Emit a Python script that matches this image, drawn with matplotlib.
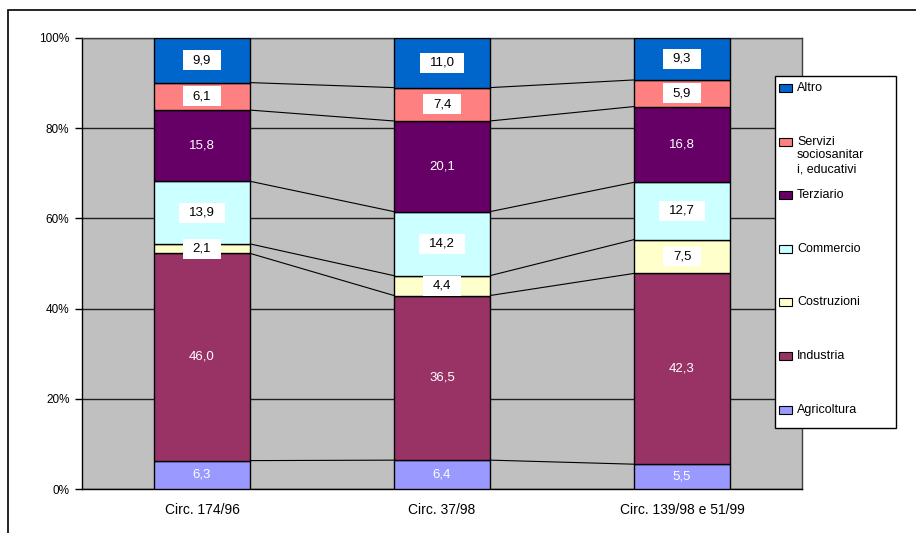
import matplotlib.pyplot as plt
import numpy as np
from matplotlib.patches import Rectangle
from matplotlib.path import Path

plt.rcParams['font.family'] = ['Liberation Sans', 'DejaVu Sans']

categories = ['Circ. 174/96', 'Circ. 37/98', 'Circ. 139/98 e 51/99']
series = ['Agricoltura', 'Industria', 'Costruzioni', 'Commercio',
          'Terziario', 'Servizi\nsociosanitar\ni, educativi', 'Altro']
agricoltura = [6.3, 6.4, 5.5]
industria = [46.0, 36.5, 42.3]
costruzioni = [2.1, 4.4, 7.5]
commercio = [13.9, 14.2, 12.7]
terziario = [15.8, 20.1, 16.8]
servizi = [6.1, 7.4, 5.9]
altro = [9.9, 11.0, 9.3]

colors = ['#9999FF', '#993366', '#FFFFCC', '#CCFFFF', '#660066', '#FF8080', '#0066CC']
# light segments get black text on a white box, dark ones white text
boxed = [False, False, True, True, False, True, True]

data = np.array([agricoltura, industria, costruzioni, commercio, terziario, servizi, altro])
pct = data / data.sum(axis=0) * 100
cum = np.vstack([np.zeros(3), np.cumsum(pct, axis=0)])


def wide_box(x0, y0, width, height, mutation_size):
    # white label box, wider than tall like the excel one
    px, py = 0.75 * mutation_size, 0.3 * mutation_size
    x0, y0 = x0 - px, y0 - py
    x1, y1 = x0 + width + 2 * px, y0 + height + 2 * py
    return Path([(x0, y0), (x1, y0), (x1, y1), (x0, y1), (x0, y0)], closed=True)


fig = plt.figure(figsize=(9.16, 5.33), dpi=100)
fig.patch.set_facecolor('white')
ax = fig.add_axes([82 / 916, 1 - 489 / 533, 720 / 916, 451 / 533])
ax.set_facecolor('#C0C0C0')

x = np.arange(len(categories))
w = 0.4
for k in range(len(series)):
    ax.bar(x, pct[k], w, bottom=cum[k], color=colors[k], edgecolor='black', linewidth=1, zorder=3)
    for i in range(len(categories)):
        yc = cum[k, i] + pct[k, i] / 2
        txt = f'{data[k, i]:.1f}'.replace('.', ',')
        if boxed[k]:
            ax.text(x[i], yc, txt, ha='center', va='center', fontsize=9.5, color='black', zorder=5,
                    bbox=dict(boxstyle=wide_box, facecolor='white', edgecolor='none'))
        else:
            ax.text(x[i], yc, txt, ha='center', va='center', fontsize=9.5, color='white', zorder=5)

# series lines between bars
for k in range(1, len(series)):
    for i in range(len(categories) - 1):
        ax.plot([x[i] + w / 2, x[i + 1] - w / 2], [cum[k, i], cum[k, i + 1]],
                color='black', linewidth=0.8, zorder=2)

ax.set_xlim(-0.5, 2.5)
ax.set_ylim(0, 100)
ax.set_yticks([0, 20, 40, 60, 80, 100])
ax.set_yticklabels(['0%', '20%', '40%', '60%', '80%', '100%'], fontsize=8.5)
ax.set_xticks(x)
ax.set_xticklabels(categories, fontsize=10)
ax.tick_params(axis='x', length=0, pad=10)
ax.tick_params(axis='y', length=5, width=1, pad=4)
ax.yaxis.grid(True, color='#202020', linewidth=1, zorder=1)
ax.set_axisbelow(True)
for s in ax.spines.values():
    s.set_color('#404040')
    s.set_linewidth(1)
ax.spines['left'].set_color('black')
ax.spines['bottom'].set_color('black')

# outer chart frame (only top and left visible)
fig.patches.append(Rectangle((8 / 916, -0.1), 1.2, 1.1 - 10 / 533, transform=fig.transFigure,
                             fill=False, edgecolor='black', linewidth=1.2))

# legend box drawn by hand
lx0, lx1, ly0, ly1 = 775, 896, 76, 428
fig.patches.append(Rectangle((lx0 / 916, 1 - ly1 / 533), (lx1 - lx0) / 916, (ly1 - ly0) / 533,
                             transform=fig.transFigure, facecolor='white', edgecolor='black',
                             linewidth=1, zorder=10))
for j, k in enumerate(range(len(series) - 1, -1, -1)):
    yp = 88 + j * 53.6
    fig.patches.append(Rectangle((779 / 916, 1 - (yp + 4) / 533), 13 / 916, 8 / 533,
                                 transform=fig.transFigure, facecolor=colors[k],
                                 edgecolor='black', linewidth=0.8, zorder=11))
    fig.text(797 / 916, 1 - (yp - 6) / 533, series[k], ha='left', va='top', fontsize=9,
             linespacing=1.2, zorder=12)

fig.savefig('out.png', dpi=100)
